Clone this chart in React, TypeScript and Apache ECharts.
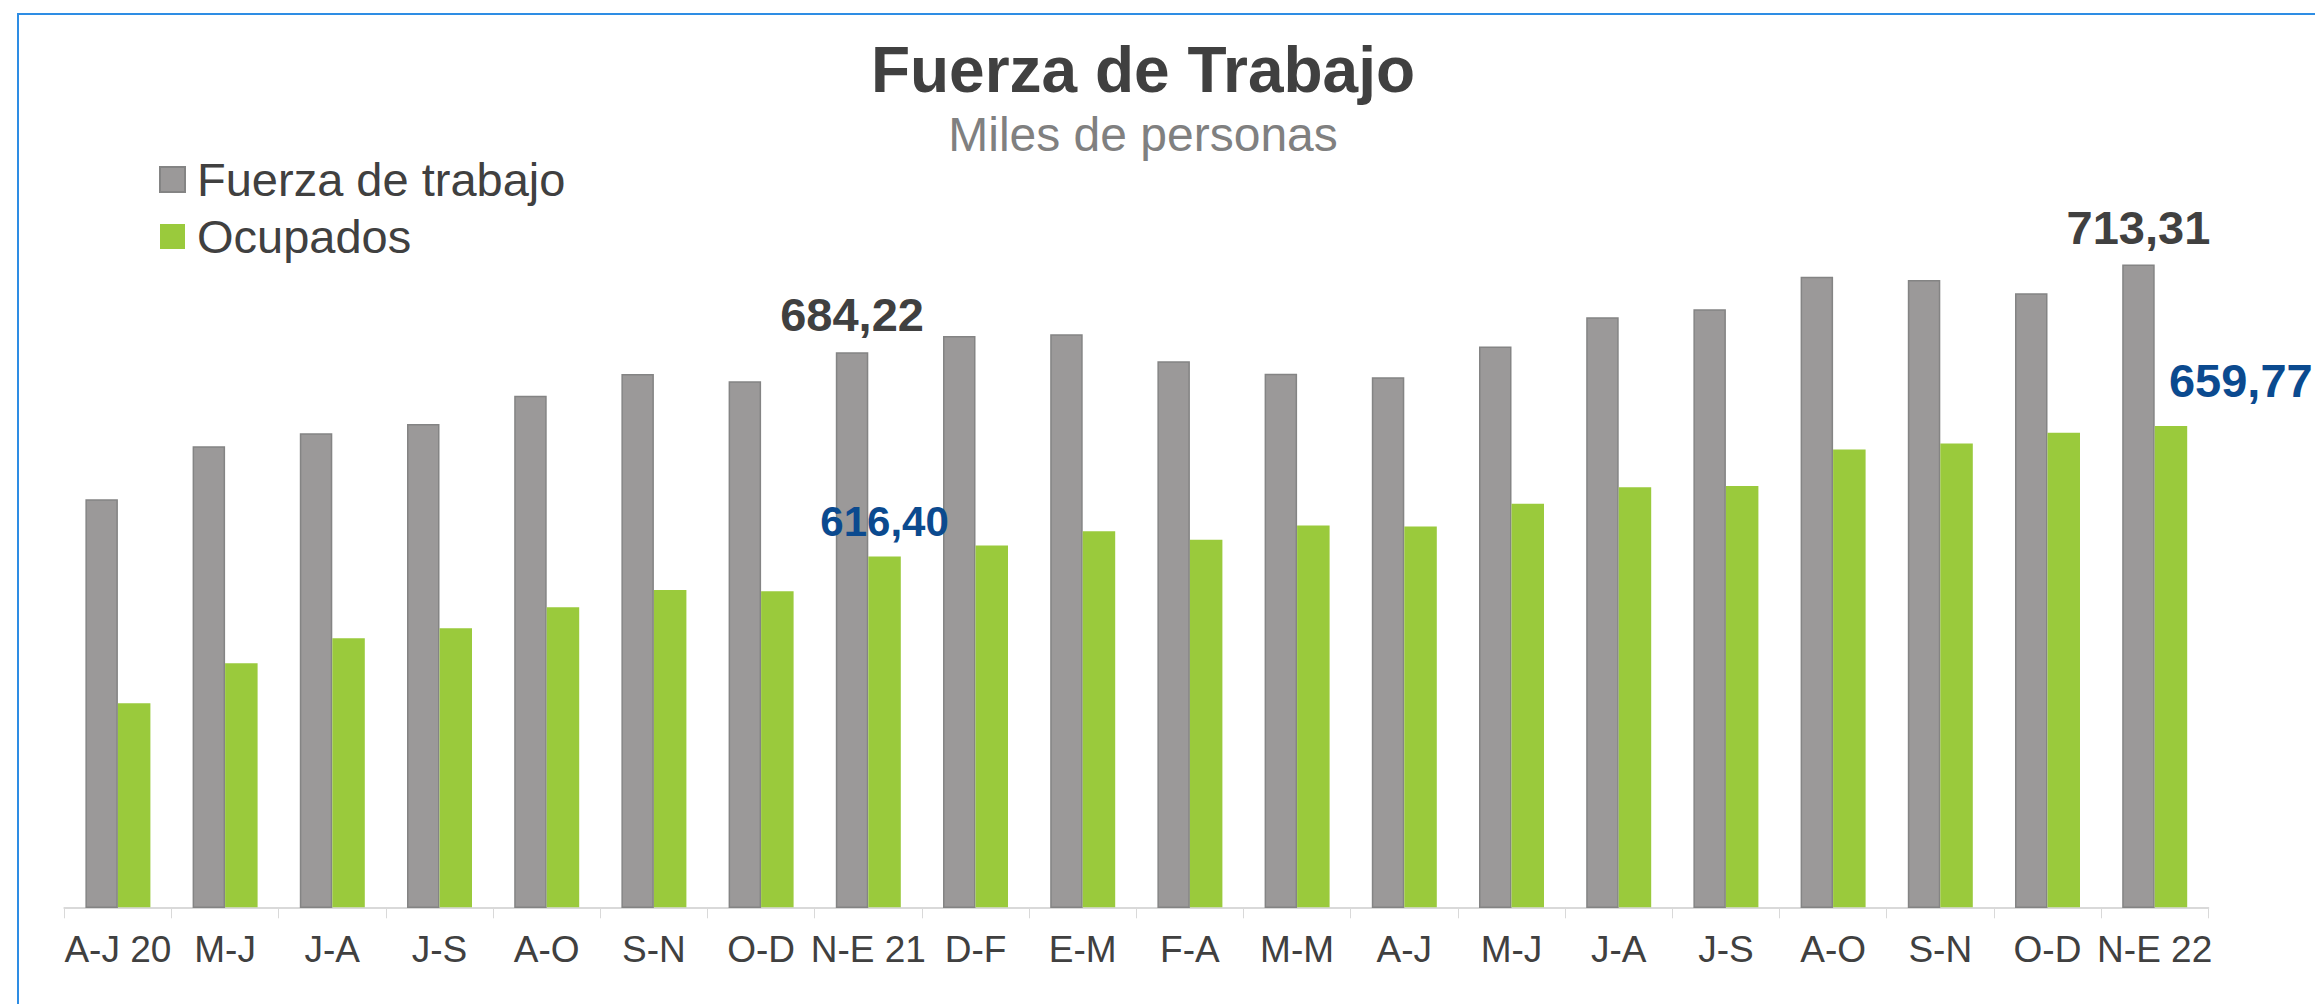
import React, { useEffect, useRef } from "react";
import * as echarts from "echarts";

const FONT = '"Liberation Sans", Arial, sans-serif';

const categories = [
  "A-J 20", "M-J", "J-A", "J-S", "A-O", "S-N", "O-D", "N-E 21", "D-F", "E-M",
  "F-A", "M-M", "A-J", "M-J", "J-A", "J-S", "A-O", "S-N", "O-D", "N-E 22",
];

const fuerzaTrabajo = [
  635.4, 653.0, 657.3, 660.4, 669.8, 677.0, 674.6, 684.22, 689.6, 690.2,
  681.2, 677.1, 675.9, 686.1, 695.8, 698.5, 709.3, 708.2, 703.8, 713.31,
];

const ocupados = [
  567.7, 581.0, 589.3, 592.6, 599.6, 605.3, 604.9, 616.4, 620.1, 624.8,
  622.0, 626.7, 626.4, 633.9, 639.4, 639.8, 651.9, 653.9, 657.5, 659.77,
];

const labeledFuerza = [7, 19];
const labeledOcupados = [7, 19];

export default function App() {
  const ref = useRef<HTMLDivElement>(null);

  useEffect(() => {
    const chart = echarts.init(ref.current!, null, { renderer: "svg" });
    const fmt = (p: any) => Number(p.value).toFixed(2).replace(".", ",");

    const grayLabel = {
      show: true,
      position: "top",
      distance: 14,
      fontSize: 47,
      lineHeight: 47,
      fontWeight: "bold",
      fontFamily: FONT,
      color: "#404040",
      formatter: fmt,
    };
    const blueLabelMid = {
      show: true,
      position: "top",
      distance: 14,
      fontSize: 42,
      lineHeight: 42,
      fontWeight: "bold",
      fontFamily: FONT,
      color: "#0b4a8f",
      formatter: fmt,
    };
    const blueLabelEnd = {
      show: true,
      position: "top",
      distance: 22,
      fontSize: 47,
      lineHeight: 47,
      fontWeight: "bold",
      fontFamily: FONT,
      color: "#0b4a8f",
      align: "left",
      offset: [-2, 0],
      formatter: fmt,
    };

    chart.setOption({
      animation: false,
      backgroundColor: "#ffffff",
      textStyle: { fontFamily: FONT },
      graphic: [
        {
          type: "rect",
          silent: true,
          z: -10,
          shape: { x: 18, y: 14, width: 2400, height: 1100 },
          style: { fill: "none", stroke: "#2e8de4", lineWidth: 2 },
        },
        {
          type: "text",
          x: 1143,
          y: 70,
          style: {
            text: "Fuerza de Trabajo",
            fontSize: 64,
            fontWeight: "bold",
            fontFamily: FONT,
            fill: "#404040",
            align: "center",
            verticalAlign: "middle",
          },
        },
        {
          type: "text",
          x: 1143,
          y: 134.5,
          style: {
            text: "Miles de personas",
            fontSize: 48,
            fontFamily: FONT,
            fill: "#808080",
            align: "center",
            verticalAlign: "middle",
          },
        },
      ],
      legend: {
        orient: "vertical",
        left: 159,
        top: 156,
        padding: 0,
        itemWidth: 25,
        itemHeight: 25,
        itemGap: 10,
        icon: "rect",
        textStyle: {
          fontSize: 47,
          lineHeight: 47,
          color: "#404040",
          fontFamily: FONT,
          padding: [0, 0, 0, 7],
        },
        data: ["Fuerza de trabajo", "Ocupados"],
      },
      grid: {
        left: 64.3,
        right: 106.7,
        top: 154,
        bottom: 96.7,
        containLabel: false,
        outerBoundsMode: "none",
      },
      xAxis: {
        type: "category",
        data: categories,
        axisLine: { show: true, lineStyle: { color: "#d9d9d9", width: 2 } },
        axisTick: { show: true, length: 11, lineStyle: { color: "#d9d9d9", width: 1 } },
        axisLabel: {
          interval: 0,
          fontSize: 37,
          color: "#404040",
          fontFamily: FONT,
          margin: 24,
        },
      },
      yAxis: {
        type: "value",
        min: 500,
        max: 750,
        show: false,
        splitLine: { show: false },
      },
      series: [
        {
          name: "Fuerza de trabajo",
          type: "bar",
          barWidth: 32.5,
          barGap: "0%",
          itemStyle: { color: "#9b9999", borderColor: "#848484", borderWidth: 1.5 },
          data: fuerzaTrabajo.map((v, i) =>
            labeledFuerza.includes(i) ? { value: v, label: grayLabel } : v
          ),
        },
        {
          name: "Ocupados",
          type: "bar",
          barWidth: 32.5,
          barGap: "0%",
          itemStyle: { color: "#9aca3c" },
          data: ocupados.map((v, i) =>
            labeledOcupados.includes(i)
              ? { value: v, label: i === labeledOcupados[0] ? blueLabelMid : blueLabelEnd }
              : v
          ),
        },
      ],
    });

    return () => chart.dispose();
  }, []);

  return (
    <div
      ref={ref}
      style={{
        position: "fixed",
        left: 0,
        top: 0,
        width: 2315,
        height: 1004,
        background: "#ffffff",
      }}
    />
  );
}
